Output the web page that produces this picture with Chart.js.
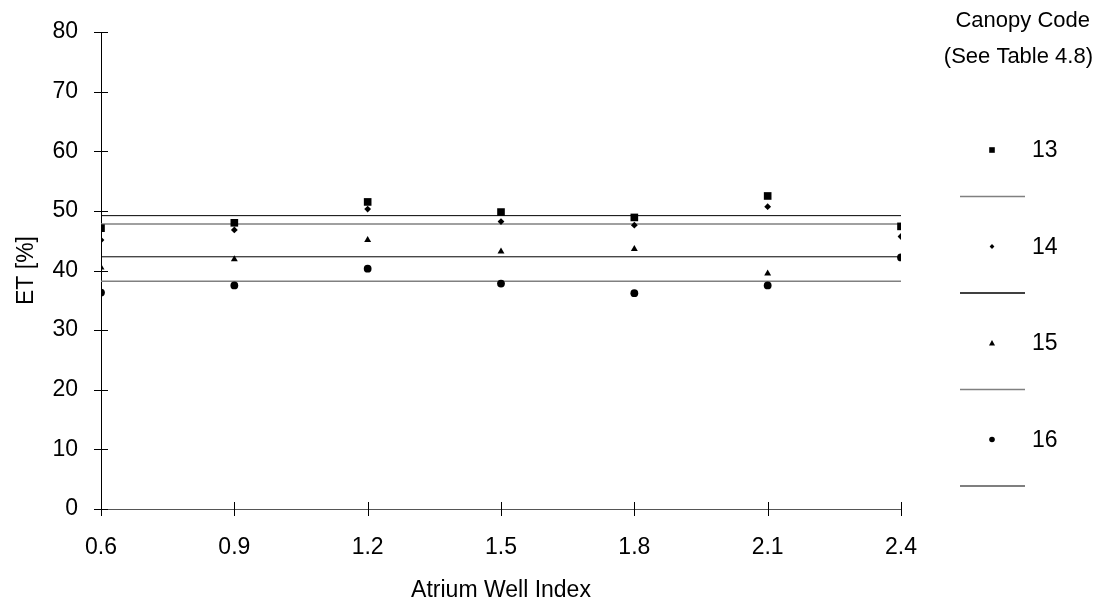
<!DOCTYPE html>
<html>
<head>
<meta charset="utf-8">
<script src="https://cdn.jsdelivr.net/npm/chart.js@4.4.1/dist/chart.umd.min.js"></script>
<style>
  html, body { margin: 0; padding: 0; background: #fff; }
</style>
</head>
<body>
<canvas id="etChart" width="1097" height="606"></canvas>
<script>
  // values
  const wellIndex = [0.6, 0.9, 1.2, 1.5, 1.8, 2.1, 2.4];
  const canopyCodes = ['13', '14', '15', '16'];
  const et13 = [47.1, 48.0, 51.5, 49.8, 48.9, 52.5, 47.4];
  const et14 = [45.1, 46.8, 50.3, 48.2, 47.6, 50.7, 45.7];
  const et15 = [40.5, 41.9, 45.1, 43.2, 43.6, 39.5, null];
  const et16 = [36.3, 37.5, 40.3, 37.8, 36.2, 37.5, 42.2];
  const meanLevels = [49.2, 47.8, 42.3, 38.2];
  const yTicks = [0, 10, 20, 30, 40, 50, 60, 70, 80];

  const FONT = 'Arial, "Liberation Sans", sans-serif';
  const series = [et13, et14, et15, et16];
  const markers = ['rect', 'rectRot', 'triangle', 'circle'];
  const markerRadius = [5.4, 3.4, 4, 3.9];
  const lineColors = ['#000', '#808080', '#000', '#808080'];
  const lineWidths = [1, 1.5, 1, 1.5];

  const pointSets = series.map((vals, i) => ({
    label: canopyCodes[i],
    data: wellIndex.map((x, j) => ({ x: x, y: vals[j] })).filter(p => p.y !== null),
    showLine: false,
    pointStyle: markers[i],
    pointRadius: markerRadius[i],
    pointBackgroundColor: '#000',
    pointBorderWidth: 0
  }));

  const meanSets = meanLevels.map((m, i) => ({
    label: canopyCodes[i] + ' mean',
    data: [{ x: wellIndex[0], y: m }, { x: wellIndex[wellIndex.length - 1], y: m }],
    showLine: true,
    borderColor: lineColors[i],
    borderWidth: lineWidths[i],
    pointRadius: 0
  }));

  function drawMarker(ctx, style, x, y, r){
    ctx.beginPath();
    if (style === 'rect') {
      ctx.rect(x - r, y - r, 2 * r, 2 * r);
    } else if (style === 'rectRot') {
      ctx.moveTo(x, y - r); ctx.lineTo(x + r, y); ctx.lineTo(x, y + r); ctx.lineTo(x - r, y);
      ctx.closePath();
    } else if (style === 'triangle') {
      ctx.moveTo(x, y - r); ctx.lineTo(x + r, y + r * 0.8); ctx.lineTo(x - r, y + r * 0.8);
      ctx.closePath();
    } else {
      ctx.arc(x, y, r, 0, Math.PI * 2);
    }
    ctx.fill();
  }

  // tick marks that cross the axis lines, like the original
  const crossTicks = {
    id: 'crossTicks',
    afterDraw(chart) {
      const ctx = chart.ctx;
      const xs = chart.scales.x, ys = chart.scales.y;
      const ax = xs.getPixelForValue(wellIndex[0]);
      const ay = ys.getPixelForValue(0);
      ctx.save();
      ctx.strokeStyle = '#000';
      ctx.lineWidth = 1;
      ctx.beginPath();
      yTicks.forEach(v => {
        const py = Math.round(ys.getPixelForValue(v)) + 0.5;
        ctx.moveTo(ax - 7, py); ctx.lineTo(ax + 7, py);
      });
      wellIndex.forEach(v => {
        const px = Math.round(xs.getPixelForValue(v)) + 0.5;
        ctx.moveTo(px, ay - 7); ctx.lineTo(px, ay + 7);
      });
      ctx.stroke();
      ctx.restore();
    }
  };

  // right-hand key: title, marker + code, then a line under each entry
  const sideKey = {
    id: 'sideKey',
    afterDraw(chart) {
      const ctx = chart.ctx;
      ctx.save();
      ctx.fillStyle = '#000';
      ctx.font = '22px ' + FONT;
      ctx.textAlign = 'right';
      ctx.textBaseline = 'middle';
      ctx.fillText('Canopy Code', 1090, 21);
      ctx.fillText('(See Table 4.8)', 1093, 57);
      const keyLineColors = ['#808080', '#000', '#808080', '#555'];
      canopyCodes.forEach((code, i) => {
        const y = 150 + i * 96.5;
        ctx.fillStyle = '#000';
        drawMarker(ctx, markers[i], 992, y, [2.8, 2.4, 3, 2.8][i]);
        ctx.font = '23px ' + FONT;
        ctx.textAlign = 'left';
        ctx.fillText(code, 1032, y + 1);
        ctx.strokeStyle = keyLineColors[i];
        ctx.lineWidth = 1.5;
        ctx.beginPath();
        ctx.moveTo(960, y + 46.5);
        ctx.lineTo(1025, y + 46.5);
        ctx.stroke();
      });
      ctx.restore();
    }
  };

  new Chart(document.getElementById('etChart').getContext('2d'), {
    type: 'scatter',
    data: { datasets: pointSets.concat(meanSets) },
    options: {
      responsive: false,
      animation: false,
      layout: { padding: { left: 0, right: 196, top: 32, bottom: 0 } },
      plugins: { legend: { display: false }, tooltip: { enabled: false } },
      scales: {
        x: {
          type: 'linear',
          min: wellIndex[0],
          max: wellIndex[wellIndex.length - 1],
          afterBuildTicks: s => { s.ticks = wellIndex.map(v => ({ value: v })); },
          afterFit: s => { s.height = 97; s.paddingLeft = 0; s.paddingRight = 0; },
          grid: { drawOnChartArea: false, drawTicks: false },
          border: { color: '#555', width: 1 },
          ticks: { color: '#000', font: { family: FONT, size: 23 }, padding: 25,
                   maxRotation: 0, autoSkip: false,
                   callback: v => Number(v).toFixed(1) },
          title: { display: true, text: 'Atrium Well Index', color: '#000',
                   font: { family: FONT, size: 23 }, padding: { top: 0, bottom: 2 } }
        },
        y: {
          min: 0,
          max: 80,
          afterBuildTicks: s => { s.ticks = yTicks.map(v => ({ value: v })); },
          afterFit: s => { s.width = 101; s.paddingTop = 0; s.paddingBottom = 0; },
          grid: { drawOnChartArea: false, drawTicks: false },
          border: { color: '#000', width: 1 },
          ticks: { color: '#000', font: { family: FONT, size: 23 }, padding: 23 },
          title: { display: true, text: 'ET [%]', color: '#000',
                   font: { family: FONT, size: 23 }, padding: { top: 13, bottom: 0 } }
        }
      }
    },
    plugins: [crossTicks, sideKey]
  });
</script>
</body>
</html>
